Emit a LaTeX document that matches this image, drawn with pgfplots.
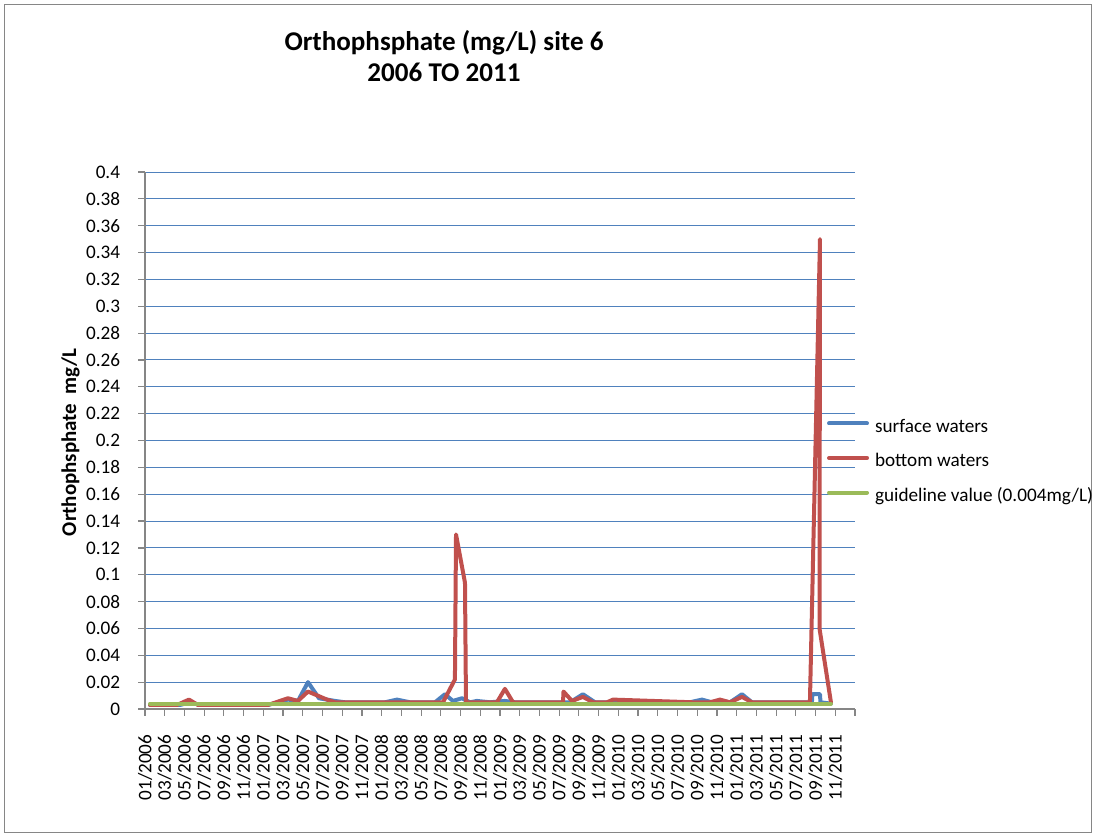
\documentclass[border=0pt]{standalone}
\usepackage{fontspec}
\setmainfont{Carlito}
\usepackage{pgfplots}
\pgfplotsset{compat=1.18}
\definecolor{xblue}{HTML}{4F81BD}
\definecolor{xred}{HTML}{C0504D}
\definecolor{xgreen}{HTML}{9BBB59}
\definecolor{xgray}{HTML}{868686}
\begin{document}
\begin{tikzpicture}
\path (-108.75pt,-95.25pt) rectangle (714pt,531.75pt);
\draw[xgray, line width=0.75pt] (-105pt,-93pt) rectangle (709.5pt,528pt);
\begin{axis}[
  scale only axis,
  width=532.5pt, height=402.75pt,
  xmin=0, xmax=72, ymin=0, ymax=0.4,
  axis lines*=left,
  axis line style={xgray, line width=0.9pt},
  tick align=outside,
  major tick length=5pt,
  tick style={xgray, line width=0.9pt},
  xtick={0,2,...,72},
  xticklabels={01/2006,03/2006,05/2006,07/2006,09/2006,11/2006,01/2007,03/2007,05/2007,07/2007,09/2007,11/2007,01/2008,03/2008,05/2008,07/2008,09/2008,11/2008,01/2009,03/2009,05/2009,07/2009,09/2009,11/2009,01/2010,03/2010,05/2010,07/2010,09/2010,11/2010,01/2011,03/2011,05/2011,07/2011,09/2011,11/2011,{}},
  ytick={0,0.02,...,0.401},
  yticklabels={0,0.02,0.04,0.06,0.08,0.1,0.12,0.14,0.16,0.18,0.2,0.22,0.24,0.26,0.28,0.3,0.32,0.34,0.36,0.38,0.4},
  ymajorgrids,
  grid style={xblue, line width=0.75pt},
  ticklabel style={font=\fontsize{14.4}{17}\selectfont},
  yticklabel style={anchor=east, inner sep=0pt, xshift=-13.5pt},
  xticklabel style={inner sep=0pt, yshift=-14pt, rotate=90, anchor=east},
  ylabel={Orthophsphate\ \ mg/L},
  ylabel style={at={(-0.105,0.4963)}, anchor=center, font=\bfseries\fontsize{15.7}{18}\selectfont},
  title={Orthophsphate (mg/L) site 6\\2006 TO 2011},
  title style={at={(0.4211,1.201)}, anchor=center, align=center, font=\bfseries\fontsize{20.3}{23.5}\selectfont},
  legend style={at={(0.9606,0.46)}, anchor=west, draw=none, fill=none, inner sep=0pt, outer sep=0pt,
    font=\fontsize{14.4}{17}\selectfont, row sep=12.9pt, column sep=4.5pt,
    nodes={inner sep=0pt, text height=10pt, text depth=3pt, anchor=west}},
  legend cell align=left,
  legend image code/.code={\draw[#1, line width=3pt, line cap=round] (0pt,0.3em) -- (28.5pt,0.3em);},
  every axis plot/.append style={line width=3pt, line join=round, line cap=round},
]
\addplot[xblue, no markers] coordinates {
(0.51,0.003) (3.55,0.003) (4.56,0.005) (5.58,0.003) (12.47,0.003) (14.50,0.007) (15.51,0.006) (16.53,0.020) (17.64,0.008) (19.27,0.006) (20.28,0.005) (24.34,0.005) (25.55,0.007) (26.87,0.005) (29.41,0.005) (30.42,0.011) (31.23,0.006) (32.14,0.008) (32.96,0.005) (33.66,0.006) (34.98,0.005) (36.50,0.006) (37.52,0.005) (43.10,0.005) (44.41,0.011) (45.63,0.005) (55.26,0.005) (56.48,0.007) (57.49,0.005) (58.31,0.006) (59.32,0.005) (60.54,0.011) (61.55,0.005) (67.63,0.005) (67.68,0.011) (68.45,0.011) (68.50,0.005) (69.56,0.004)
};
\addlegendentry{surface waters}
\addplot[xred, no markers] coordinates {
(0.51,0.003) (3.24,0.003) (4.46,0.007) (5.37,0.003) (12.47,0.003) (14.50,0.008) (15.51,0.006) (16.53,0.013) (18.46,0.007) (19.27,0.005) (30.22,0.005) (31.43,0.022) (31.54,0.13) (32.45,0.094) (32.55,0.005) (35.69,0.005) (36.50,0.015) (37.32,0.005) (42.39,0.005) (42.44,0.013) (43.30,0.006) (44.41,0.009) (45.43,0.005) (46.85,0.005) (47.46,0.007) (55.57,0.005) (57.29,0.005) (58.31,0.007) (59.32,0.005) (60.54,0.009) (61.55,0.005) (67.43,0.005) (68.45,0.35) (68.40,0.06) (69.56,0.005)
};
\addlegendentry{bottom waters}
\addplot[xgreen, no markers] coordinates {
(0.51,0.004) (69.56,0.004)
};
\addlegendentry{guideline value (0.004mg/L)}
\end{axis}
\end{tikzpicture}
\end{document}
